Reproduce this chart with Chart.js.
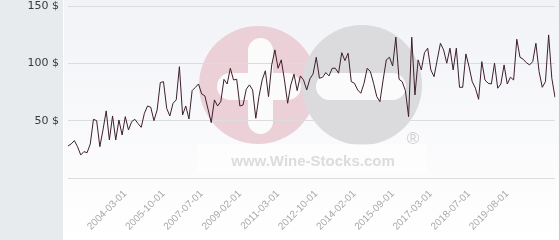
<!DOCTYPE html>
<html>
<head>
<meta charset="utf-8">
<script src="https://cdn.jsdelivr.net/npm/chart.js@4/dist/chart.umd.min.js"></script>
<style>
html,body{margin:0;padding:0;background:#fff;}
#wrap{width:560px;height:240px;position:relative;}
</style>
</head>
<body>
<div id="wrap"><canvas id="c" width="560" height="240"></canvas></div>
<script>
// Price series (USD), one value per observation
const prices = [
  27.9, 29.7, 32.6, 27.3, 20.1, 23, 22.1, 29.7, 51.2, 50, 27.3, 42, 58.5, 33.2, 54.1, 33.2, 50.6, 37.5, 53.5, 41.9, 49.1, 51.2, 47.5, 44.2, 56.4,
  62.8, 61.7, 50, 59.3, 83.2, 84, 60.8, 54.1, 65.2, 68.1, 97.1, 55, 62.8, 51.5, 76.2, 79, 82, 73.3, 71.6, 60, 48.3, 68.1, 62.8, 66.6,
  86, 82, 95.7, 85.5, 86.1, 62.8, 63.7, 77.4, 81.2, 76.8,
  52.1, 71, 85.5, 93.5, 71, 98.6, 111.7, 95.7, 103, 85.5,
  65.2, 81.2, 90.5, 76.2, 89, 85.5, 76.8, 86.5, 90.8, 105.3,
  87, 87.9, 91.9, 89, 95.7, 95.7, 91.4, 109.3, 102.4, 108.8,
  84, 82.6, 76.8, 73.9, 82.6, 95.7, 92.8, 82.6, 71, 66.6,
  85.5, 103, 105.3, 97.7, 122.8, 86.1, 84, 76.2, 53.5, 122.8,
  72.4, 103, 94.2, 109.3, 113.2, 94.2, 88.4, 103, 117.5, 111.7,
  100.1, 113.2, 94.2, 113.2, 79.1, 79.1, 108.2, 97.1, 84, 78.3,
  68.6, 101.5, 85.5, 82.6, 82, 100.1, 78.3, 82, 98.6, 82,
  87.9, 85.5, 121, 105.3, 103.6, 100.6, 98.6, 101.5, 117.5, 92.8,
  79.1, 84, 124.8, 87, 70.4
];
// Dates shown on the x axis
const tickLabels = ['2004-03-01','2005-10-01','2007-07-01','2009-02-01','2011-03-01','2012-10-01','2014-02-01','2015-09-01','2017-03-01','2018-07-01','2019-08-01'];
const firstLabelIndex = 18;
const labelEvery = 12;
// y axis tick values
const yTicks = [0, 50, 100, 150];

const categories = prices.map((_, i) => i);

const bgPlugin = {
  id: 'bg',
  beforeDraw(chart) {
    const ctx = chart.ctx, ca = chart.chartArea;
    ctx.save();
    ctx.fillStyle = '#e7ebee';
    ctx.fillRect(0, 0, 63, 240);
    ctx.fillStyle = '#ffffff';
    ctx.fillRect(63, 0, 1, 240);
    const g = ctx.createLinearGradient(0, 0, 0, 240);
    g.addColorStop(0, '#f2f3f7');
    g.addColorStop(1, '#ffffff');
    ctx.fillStyle = g;
    ctx.fillRect(64, 0, 495, 240);
    ctx.fillStyle = '#c9c9c9';
    ctx.fillRect(559, 0, 1, 240);

    // watermark
    const L = ca.left, T = ca.top;
    ctx.fillStyle = '#ebd0d7';
    ctx.beginPath(); ctx.arc(L + 190, T + 79, 59, 0, Math.PI * 2); ctx.fill();
    ctx.fillStyle = '#dbdbdd';
    ctx.beginPath(); ctx.arc(L + 294, T + 79, 60, 0, Math.PI * 2); ctx.fill();
    ctx.fillStyle = '#fbfbfc';
    function rr(x, y, w, h, r) {
      ctx.beginPath();
      ctx.roundRect(x, y, w, h, r);
      ctx.fill();
    }
    rr(L + 180, T + 32, 25, 96, 12.5);
    rr(L + 149, T + 67, 84, 27, 13.5);
    rr(L + 248, T + 67, 90, 27, 13.5);
    ctx.fillStyle = 'rgba(255,255,255,0.55)';
    ctx.fillRect(L + 129, T + 138, 230, 29);
    ctx.fillStyle = '#dcdcdc';
    ctx.font = 'bold 15px "Liberation Sans", Arial, sans-serif';
    ctx.textAlign = 'center';
    ctx.textBaseline = 'alphabetic';
    ctx.fillText('www.Wine-Stocks.com', L + 245, T + 160);
    ctx.fillStyle = '#cfcfcf';
    ctx.font = '17px "Liberation Sans", Arial, sans-serif';
    ctx.fillText('\u00AE', L + 345, T + 138);
    ctx.restore();
  }
};

new Chart(document.getElementById('c'), {
  type: 'line',
  data: {
    labels: categories,
    datasets: [{
      data: prices,
      borderColor: '#3d1f2d',
      borderWidth: 1,
      pointRadius: 0,
      tension: 0,
      fill: false
    }]
  },
  plugins: [bgPlugin],
  options: {
    responsive: false,
    animation: false,
    events: [],
    layout: { padding: { top: 6, right: 5, left: 0, bottom: 0 } },
    plugins: { legend: { display: false }, tooltip: { enabled: false } },
    scales: {
      x: {
        type: 'category',
        offset: false,
        grid: { display: false, drawTicks: false },
        border: { display: false },
        afterFit(s) { s.height = 62; s.paddingLeft = 0; s.paddingRight = 0; },
        ticks: {
          autoSkip: false,
          minRotation: 45,
          maxRotation: 45,
          padding: 10,
          color: '#a8a8a8',
          font: { family: '"Liberation Sans", Arial, sans-serif', size: 10 },
          callback(v, i) {
            const k = i - firstLabelIndex;
            if (k >= 0 && k % labelEvery === 0 && k / labelEvery < tickLabels.length) return tickLabels[k / labelEvery];
            return '';
          }
        }
      },
      y: {
        min: yTicks[0],
        max: yTicks[yTicks.length - 1],
        afterBuildTicks(s) { s.ticks = yTicks.map(v => ({ value: v })); },
        afterFit(s) { s.width = 68; s.paddingTop = 0; s.paddingBottom = 0; },
        grid: { color: '#dcdcdf', lineWidth: 1, drawTicks: false },
        border: { display: false },
        ticks: {
          padding: 9,
          color: '#3a3a3a',
          font: { family: '"DejaVu Sans", sans-serif', size: 11 },
          callback(v) { return v === 0 ? '' : v + ' $'; }
        }
      }
    }
  }
});
</script>
</body>
</html>
